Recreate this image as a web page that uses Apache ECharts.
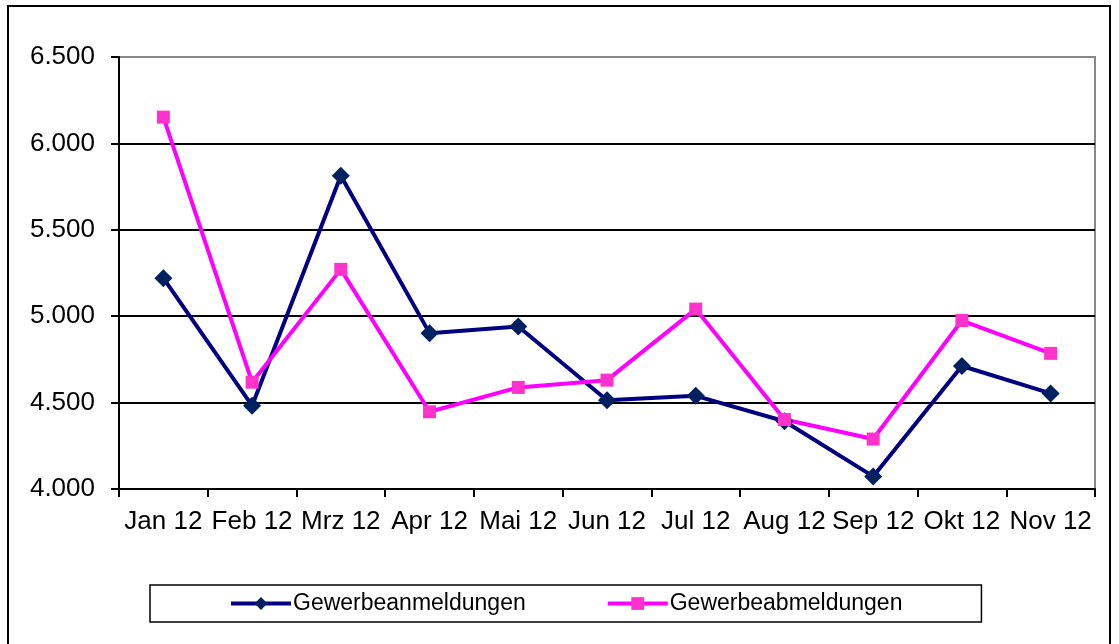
<!DOCTYPE html>
<html>
<head>
<meta charset="utf-8">
<script src="https://cdn.jsdelivr.net/npm/echarts@6/dist/echarts.min.js"></script>
<style>
  html, body { margin: 0; padding: 0; background: #fff; }
  #chart { width: 1119px; height: 644px; }
</style>
</head>
<body>
<div id="chart"></div>
<script>
// Monate 2012
const months = ['Jan 12', 'Feb 12', 'Mrz 12', 'Apr 12', 'Mai 12', 'Jun 12', 'Jul 12', 'Aug 12', 'Sep 12', 'Okt 12', 'Nov 12'];
const anmeldungen = [5220, 4482, 5813, 4902, 4940, 4514, 4539, 4392, 4073, 4712, 4553];
const abmeldungen = [6152, 4618, 5271, 4447, 4588, 4630, 5041, 4402, 4289, 4975, 4785];
const yTicks = [4000, 4500, 5000, 5500, 6000, 6500];

const fmt = v => String(v).replace(/\B(?=(\d{3})+(?!\d))/g, '.');
const font = 'Liberation Sans, Arial, sans-serif';

const chart = echarts.init(document.getElementById('chart'));

const option = {
  backgroundColor: '#fff',
  animation: false,
  textStyle: { fontFamily: font, color: '#000' },
  graphic: [{
    type: 'rect',
    shape: { x: 8, y: 6, width: 1102, height: 650 },
    style: { fill: 'none', stroke: '#000', lineWidth: 2 },
    silent: true
  }],
  grid: {
    left: 119, right: 24, top: 57, bottom: 155,
    show: true, borderColor: '#888', borderWidth: 2, backgroundColor: 'transparent'
  },
  legend: {
    left: 150, top: 585,
    padding: [7, 79],
    borderColor: '#000', borderWidth: 1.5,
    itemWidth: 60, itemHeight: 16, itemGap: 80,
    lineStyle: { width: 4 },
    textStyle: { fontFamily: font, fontSize: 23, color: '#000', padding: [0, 0, 0, -3] },
    data: ['Gewerbeanmeldungen', 'Gewerbeabmeldungen']
  },
  xAxis: {
    type: 'category',
    data: months,
    boundaryGap: true,
    axisLine: { lineStyle: { color: '#000', width: 2 } },
    axisTick: { show: true, length: 8, lineStyle: { color: '#000', width: 2 } },
    axisLabel: { interval: 0, fontSize: 26, color: '#000', margin: 20, fontFamily: font }
  },
  yAxis: {
    type: 'value',
    min: yTicks[0], max: yTicks[yTicks.length - 1], interval: 500,
    axisLine: { show: true, lineStyle: { color: '#000', width: 2 } },
    axisTick: { show: true, length: 8, lineStyle: { color: '#000', width: 2 } },
    axisLabel: { fontSize: 26, color: '#000', margin: 24, fontFamily: font, formatter: fmt },
    splitLine: { show: true, lineStyle: { color: ['#000', '#000', '#000', '#000', '#000', '#888'], width: 2 } }
  },
  series: [
    {
      name: 'Gewerbeanmeldungen',
      type: 'line',
      data: anmeldungen,
      symbol: 'diamond',
      symbolSize: 18,
      lineStyle: { color: '#000080', width: 4 },
      itemStyle: { color: '#002060', borderWidth: 0 }
    },
    {
      name: 'Gewerbeabmeldungen',
      type: 'line',
      data: abmeldungen,
      symbol: 'rect',
      symbolSize: 13,
      lineStyle: { color: '#FF00FF', width: 4 },
      itemStyle: { color: '#FF33CC', borderWidth: 0 }
    }
  ]
};

chart.setOption(option);
</script>
</body>
</html>
